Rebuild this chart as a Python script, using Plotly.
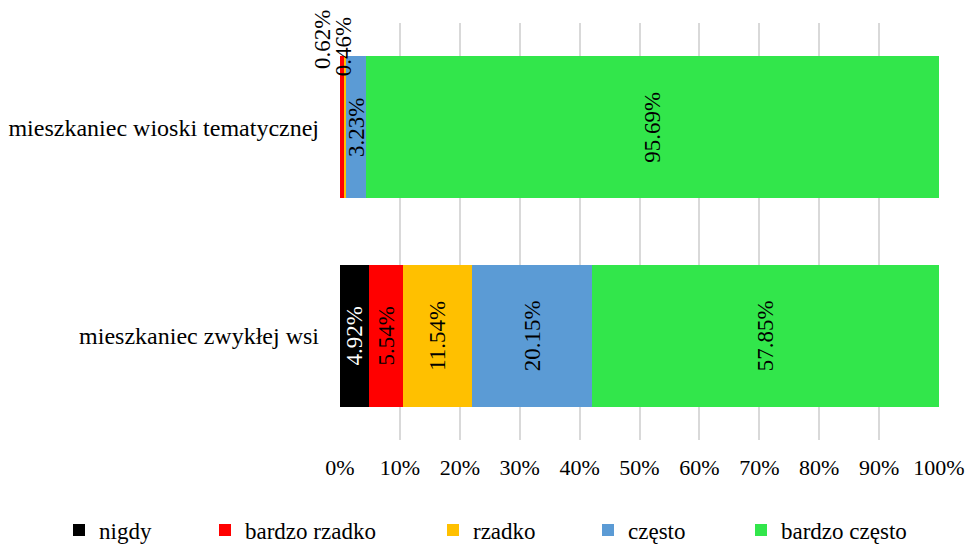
import plotly.graph_objects as go

categories = ["mieszkaniec zwykłej wsi", "mieszkaniec wioski tematycznej"]
series_names = ["nigdy", "bardzo rzadko", "rzadko", "często", "bardzo często"]
nigdy = [4.92, 0.0]
bardzo_rzadko = [5.54, 0.62]
rzadko = [11.54, 0.46]
czesto = [20.15, 3.23]
bardzo_czesto = [57.85, 95.69]
tick_labels = ["0%", "10%", "20%", "30%", "40%", "50%", "60%", "70%", "80%", "90%", "100%"]

series_values = [nigdy, bardzo_rzadko, rzadko, czesto, bardzo_czesto]
colors = ["#000000", "#FF0000", "#FFC000", "#5B9BD5", "#32E64B"]
text_colors = ["#FFFFFF", "#000000", "#000000", "#000000", "#000000"]

FONT = "Liberation Serif"
FS_LABEL = 23
FS_TICK = 22
FS_CAT = 24
FS_LEGEND = 23

# labels too narrow to sit inside their segment are drawn above the bar
outside_min = 1.0

L, R, T, B = 340, 27, 23, 104
plot_w = 966 - L - R
plot_h = 544 - T - B
legend_text_x = [99, 245, 473, 628, 781]

fig = go.Figure()
for i, (name, vals) in enumerate(zip(series_names, series_values)):
    texts = ["" if v < outside_min else f"{v:.2f}%" for v in vals]
    legend_id = "legend" if i == 0 else f"legend{i + 1}"
    fig.add_trace(go.Bar(
        y=categories, x=vals, orientation="h", name=name,
        marker=dict(color=colors[i], line=dict(width=0)),
        text=texts, textposition="inside", insidetextanchor="middle",
        textangle=-90, constraintext="none",
        textfont=dict(family=FONT, size=FS_LABEL, color=text_colors[i]),
        legend=legend_id, showlegend=True, hoverinfo="skip",
    ))

# small segment labels placed above the top bar
annotations = []
cum = [0.0, 0.0]
shifts = {(1, 1): (-20, 88), (2, 1): (-2, 80)}
for i, vals in enumerate(series_values):
    for j, v in enumerate(vals):
        if 0 < v < outside_min:
            dx, dy = shifts.get((i, j), (0, 80))
            annotations.append(dict(
                x=cum[j] + v / 2, y=categories[j], xref="x", yref="y",
                text=f"{v:.2f}%", showarrow=False, textangle=-90,
                font=dict(family=FONT, size=FS_LABEL, color="#000000"),
                xshift=dx, yshift=dy,
            ))
        cum[j] += v

legend_layouts = {}
for i in range(len(series_names)):
    key = "legend" if i == 0 else f"legend{i + 1}"
    legend_layouts[key] = dict(
        x=(legend_text_x[i] - 40 - L) / plot_w, xanchor="left",
        y=(T + plot_h - 530) / plot_h, yanchor="middle",
        orientation="h", bgcolor="rgba(0,0,0,0)",
        font=dict(family=FONT, size=FS_LEGEND, color="#000000"),
    )

fig.update_layout(
    width=966, height=544,
    margin=dict(l=L, r=R, t=T, b=B, autoexpand=False),
    paper_bgcolor="white", plot_bgcolor="white",
    barmode="stack", bargap=0.32, showlegend=True,
    font=dict(family=FONT, size=FS_TICK, color="#000000"),
    annotations=annotations,
    **legend_layouts,
)
fig.update_xaxes(
    range=[0, 100], tickvals=list(range(0, 101, 10)), ticktext=tick_labels,
    showgrid=True, gridcolor="#D9D9D9", gridwidth=1.5,
    zeroline=False, showline=False, ticks="", ticklabelstandoff=12,
    tickfont=dict(family=FONT, size=FS_TICK, color="#000000"),
    automargin=False,
)
fig.update_yaxes(
    categoryorder="array", categoryarray=categories, range=[-0.5, 1.5],
    showgrid=False, zeroline=False, showline=False, ticks="",
    ticklabelstandoff=20, automargin=False,
    tickfont=dict(family=FONT, size=FS_CAT, color="#000000"),
)

fig.write_html("out.html")
